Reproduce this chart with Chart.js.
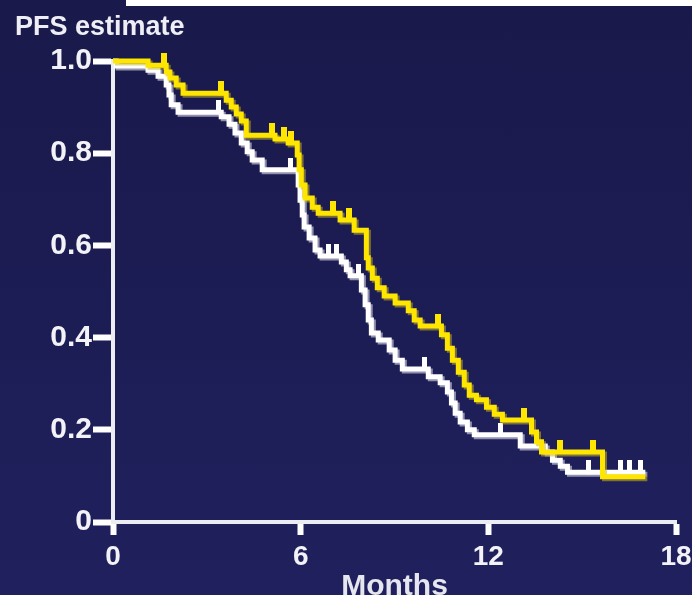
<!DOCTYPE html>
<html>
<head>
<meta charset="utf-8">
<script src="https://cdn.jsdelivr.net/npm/chart.js@4.4.1/dist/chart.umd.min.js"></script>
<style>
  html, body { margin: 0; padding: 0; }
  body { width: 692px; height: 595px; overflow: hidden; background: linear-gradient(#19194b, #20205e); }
  canvas { display: block; }
</style>
</head>
<body>
<canvas id="pfsChart" width="692" height="595"></canvas>
<script>
// axis ticks
const monthTicks = [0, 6, 12, 18];
const pfsTicks = [0, 0.2, 0.4, 0.6, 0.8, 1.0];
const pfsTickLabels = ['0', '0.2', '0.4', '0.6', '0.8', '1.0'];

// yellow arm (Kaplan-Meier steps)
const yellowMonths = [0, 1.12, 1.70, 1.82, 2.02, 2.24, 3.62, 3.78, 3.94, 4.10, 4.26, 5.18, 5.60,
  5.89, 5.95, 6.02, 6.14, 6.37, 6.56, 7.26, 7.71, 8.10, 8.16, 8.29, 8.45, 8.67, 9.02, 9.44, 9.63,
  9.82, 10.50, 10.69, 10.85, 11.04, 11.23, 11.39, 11.62, 11.94, 12.19, 12.45, 13.38, 13.54, 13.70,
  15.65, 17.02];
const yellowPFS = [1.0, 0.991, 0.976, 0.963, 0.948, 0.930, 0.915, 0.900, 0.885, 0.870, 0.839, 0.831, 0.822,
  0.796, 0.764, 0.731, 0.703, 0.683, 0.670, 0.655, 0.633, 0.573, 0.551, 0.529, 0.508, 0.490, 0.475, 0.458, 0.438,
  0.425, 0.406, 0.377, 0.351, 0.325, 0.297, 0.275, 0.265, 0.249, 0.234, 0.221, 0.195, 0.174, 0.152,
  0.098, 0.098];
const yellowCensorMonths = [1.63, 3.46, 5.09, 5.47, 5.70, 7.04, 7.55, 10.40, 13.15, 14.30, 15.36];
const yellowCensorPFS = [0.991, 0.930, 0.839, 0.831, 0.822, 0.670, 0.655, 0.425, 0.221, 0.152, 0.152];

// white arm
const whiteMonths = [0, 0.10, 1.12, 1.44, 1.70, 1.79, 1.86, 2.08, 3.46, 3.71, 3.90, 4.10, 4.29, 4.45, 4.77,
  5.92, 5.98, 6.05, 6.11, 6.27, 6.46, 6.62, 7.30, 7.46, 7.58, 7.94, 8.06, 8.16, 8.26, 8.48, 8.83,
  9.02, 9.25, 10.08, 10.46, 10.69, 10.82, 10.94, 11.10, 11.33, 11.55, 13.02, 13.82, 14.05, 14.30, 14.53, 17.02];
const whitePFS = [1.0, 0.989, 0.980, 0.967, 0.948, 0.926, 0.905, 0.889, 0.879, 0.863, 0.844, 0.822, 0.803, 0.785, 0.764,
  0.731, 0.698, 0.666, 0.640, 0.616, 0.590, 0.577, 0.564, 0.547, 0.534, 0.503, 0.471, 0.438, 0.410, 0.395, 0.373,
  0.351, 0.332, 0.315, 0.302, 0.282, 0.258, 0.236, 0.217, 0.200, 0.189, 0.165, 0.152, 0.134, 0.121, 0.108, 0.108];
const whiteCensorMonths = [3.36, 5.66, 6.88, 7.14, 7.84, 9.95, 12.38, 15.20, 16.22, 16.51, 16.86];
const whiteCensorPFS = [0.889, 0.764, 0.577, 0.577, 0.534, 0.332, 0.189, 0.108, 0.108, 0.108, 0.108];

const fontFamily = "'Liberation Sans', Arial, sans-serif";
const toPoints = (xs, ys) => xs.map((x, i) => ({ x: x, y: ys[i] }));

// little vertical tick used as the censor mark (mostly above the line)
function censorTick(color, w) {
  const c = document.createElement('canvas');
  c.width = w;
  c.height = 24;
  const g = c.getContext('2d');
  g.fillStyle = color;
  g.fillRect(0, 0, w, 14);
  return c;
}

const lineShadow = {
  id: 'lineShadow',
  beforeDatasetDraw(chart, args) {
    const ds = chart.data.datasets[args.index];
    if (!ds.shadowColor) return;
    const ctx = chart.ctx;
    ctx.save();
    ctx.shadowColor = ds.shadowColor;
    ctx.shadowOffsetX = 2;
    ctx.shadowOffsetY = 2;
    ctx.shadowBlur = 0;
  },
  afterDatasetDraw(chart, args) {
    if (chart.data.datasets[args.index].shadowColor) chart.ctx.restore();
  }
};

const decorations = {
  id: 'decorations',
  afterDraw(chart) {
    const ctx = chart.ctx;
    ctx.save();
    ctx.fillStyle = '#ffffff';
    ctx.fillRect(126, 0, 566, 6);
    ctx.fillStyle = '#eeeef4';
    ctx.font = 'bold 27px ' + fontFamily;
    ctx.textBaseline = 'alphabetic';
    ctx.textAlign = 'left';
    ctx.fillText('PFS estimate', 15, 35);
    ctx.restore();
  }
};

new Chart(document.getElementById('pfsChart'), {
  type: 'line',
  data: {
    datasets: [
      {
        label: 'Yellow arm',
        data: toPoints(yellowMonths, yellowPFS),
        stepped: 'before',
        borderColor: '#ffe600',
        borderWidth: 5,
        pointRadius: 0,
        shadowColor: 'rgba(200, 180, 40, 0.55)',
        clip: false,
        order: 1
      },
      {
        label: 'Yellow censored',
        data: toPoints(yellowCensorMonths, yellowCensorPFS),
        showLine: false,
        pointStyle: censorTick('#ffe600', 6),
        pointRadius: 3,
        clip: false,
        order: 0
      },
      {
        label: 'White arm',
        data: toPoints(whiteMonths, whitePFS),
        stepped: 'before',
        borderColor: '#ffffff',
        borderWidth: 5,
        pointRadius: 0,
        shadowColor: 'rgba(185, 185, 205, 0.75)',
        clip: false,
        order: 3
      },
      {
        label: 'White censored',
        data: toPoints(whiteCensorMonths, whiteCensorPFS),
        showLine: false,
        pointStyle: censorTick('#ffffff', 5),
        pointRadius: 3,
        clip: false,
        order: 2
      }
    ]
  },
  options: {
    responsive: false,
    animation: false,
    devicePixelRatio: 1,
    layout: { padding: { top: 61, right: 16, left: 0, bottom: 0 } },
    plugins: {
      legend: { display: false },
      tooltip: { enabled: false }
    },
    scales: {
      x: {
        type: 'linear',
        min: 0,
        max: 18,
        afterBuildTicks: s => { s.ticks = monthTicks.map(v => ({ value: v })); },
        afterFit: s => { s.height = 73; s.paddingLeft = 0; s.paddingRight = 0; },
        border: { display: true, color: '#ececf3', width: 4 },
        grid: { drawOnChartArea: false, drawTicks: true, tickLength: 13, tickWidth: 6, tickColor: '#ffffff' },
        ticks: {
          color: '#f2f2f7',
          font: { family: fontFamily, size: 28, weight: 'bold' },
          padding: 5,
          maxRotation: 0,
          autoSkip: false
        },
        title: {
          display: true,
          text: 'Months',
          color: '#e6e6ee',
          font: { family: fontFamily, size: 30, weight: 'bold' },
          padding: { top: 0, bottom: -10 }
        }
      },
      y: {
        type: 'linear',
        min: 0,
        max: 1,
        afterBuildTicks: s => { s.ticks = pfsTicks.map(v => ({ value: v })); },
        afterFit: s => { s.width = 113; s.paddingTop = 0; s.paddingBottom = 0; },
        border: { display: true, color: '#ececf3', width: 4 },
        grid: { drawOnChartArea: false, drawTicks: true, tickLength: 20, tickWidth: 6, tickColor: '#ffffff' },
        ticks: {
          color: '#f2f2f7',
          font: { family: fontFamily, size: 30, weight: 'bold' },
          padding: 1,
          callback: (v, i) => pfsTickLabels[i]
        }
      }
    }
  },
  plugins: [lineShadow, decorations]
});
</script>
</body>
</html>
